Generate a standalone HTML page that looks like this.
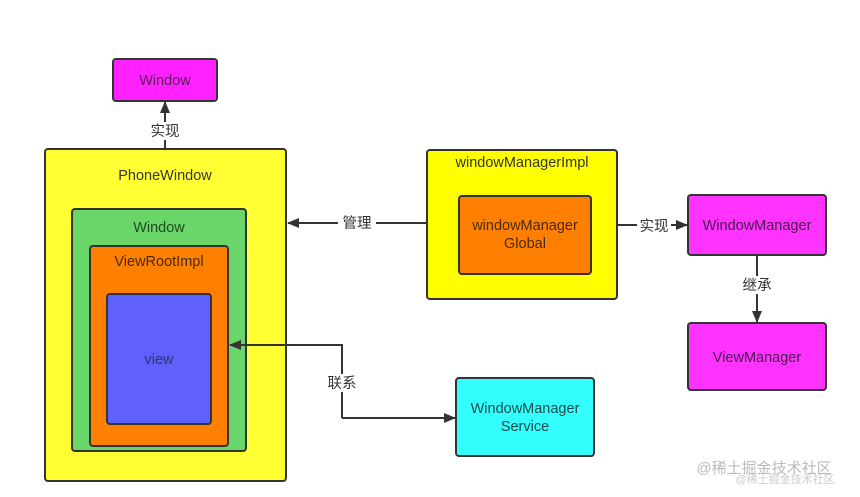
<!DOCTYPE html>
<html><head><meta charset="utf-8"><style>
body{margin:0;background:#fff;width:860px;height:492px;overflow:hidden}
svg text{font-family:"Liberation Sans","Noto Sans CJK SC",sans-serif;font-size:14.5px;text-anchor:middle}
</style></head><body>
<svg width="860" height="492" viewBox="0 0 860 492">
<defs><marker id="a" markerWidth="12" markerHeight="12" refX="11" refY="6" orient="auto" markerUnits="userSpaceOnUse"><path d="M0,1 L12,6 L0,11 z" fill="#333"/></marker></defs>
<g stroke="#333" stroke-width="2">
<rect x="113" y="59" width="104" height="42" rx="3" fill="#ff22ff"/>
<rect x="45" y="149" width="241" height="332" rx="3" fill="#ffff33"/>
<rect x="72" y="209" width="174" height="242" rx="3" fill="#6ad66a"/>
<rect x="90" y="246" width="138" height="200" rx="3" fill="#ff8000"/>
<rect x="107" y="294" width="104" height="130" rx="3" fill="#6060ff"/>
<rect x="427" y="150" width="190" height="149" rx="3" fill="#ffff00"/>
<rect x="459" y="196" width="132" height="78" rx="3" fill="#ff8000"/>
<rect x="688" y="195" width="138" height="60" rx="3" fill="#ff33ff"/>
<rect x="688" y="323" width="138" height="67" rx="3" fill="#ff33ff"/>
<rect x="456" y="378" width="138" height="78" rx="3" fill="#33ffff"/>
</g>
<g stroke="#333" stroke-width="2" fill="none">
<line x1="165" y1="149" x2="165" y2="102" marker-end="url(#a)"/>
<line x1="426" y1="223" x2="288" y2="223" marker-end="url(#a)"/>
<line x1="617" y1="225" x2="687" y2="225" marker-end="url(#a)"/>
<line x1="757" y1="255" x2="757" y2="322" marker-end="url(#a)"/>
<polyline points="342,418 342,345 230,345" marker-end="url(#a)"/>
<polyline points="342,418 455,418" marker-end="url(#a)"/>
</g>
<g fill="#fff">
<rect x="148" y="122" width="34" height="18"/>
<rect x="338" y="214" width="38" height="18"/>
<rect x="637" y="216" width="34" height="18"/>
<rect x="740" y="276" width="34" height="18"/>
<rect x="325" y="374" width="34" height="18"/>
</g>
<g fill="#333">
<text x="165" y="136">实现</text>
<text x="357" y="228">管理</text>
<text x="654" y="231">实现</text>
<text x="757" y="290">继承</text>
<text x="342" y="388">联系</text>
</g>
<g fill="#333">
<text x="165" y="85" fill="#5a1a5a">Window</text>
<text x="165" y="180">PhoneWindow</text>
<text x="159" y="232" fill="#1f4a1f">Window</text>
<text x="159" y="266" fill="#4a2a00">ViewRootImpl</text>
<text x="159" y="364" fill="#333366">view</text>
<text x="522" y="167">windowManagerImpl</text>
<text x="525" y="230" fill="#4a2a00">windowManager</text>
<text x="525" y="248" fill="#4a2a00">Global</text>
<text x="757" y="230" fill="#4a1a4a">WindowManager</text>
<text x="757" y="362" fill="#4a1a4a">ViewManager</text>
<text x="525" y="413" fill="#1a4a4a">WindowManager</text>
<text x="525" y="431" fill="#1a4a4a">Service</text>
</g>
<text x="764" y="473" fill="#bbb" style="font-size:15px">@稀土掘金技术社区</text>
<text x="785" y="483" fill="#ccc" style="font-size:11px">@稀土掘金技术社区</text>
</svg>
</body></html>
